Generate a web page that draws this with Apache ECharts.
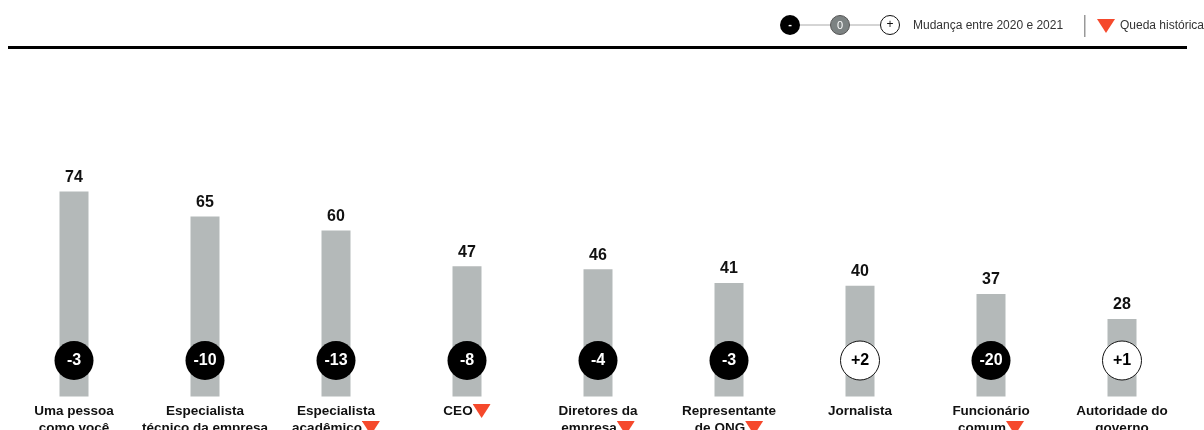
<!DOCTYPE html>
<html>
<head>
<meta charset="utf-8">
<script src="https://cdn.jsdelivr.net/npm/echarts@6/dist/echarts.min.js"></script>
<style>
html,body{margin:0;padding:0;background:#fff;}
#chart{width:1204px;height:430px;}
</style>
</head>
<body>
<div id="chart"></div>
<script>
const categories = ['Uma pessoa\ncomo você','Especialista\ntécnico da empresa','Especialista\nacadêmico','CEO','Diretores da\nempresa','Representante\nde ONG','Jornalista','Funcionário\ncomum','Autoridade do\ngoverno'];
const trust2021 = [74, 65, 60, 47, 46, 41, 40, 37, 28];
const change = [-3, -10, -13, -8, -4, -3, 2, -20, 1];
const historicDrop = [false, false, true, true, true, true, false, true, false];

const RED = '#f5492c';
const FONT = '"Liberation Sans", Arial, sans-serif';
const TRI_IMG = 'data:image/svg+xml;charset=utf-8,' + encodeURIComponent(
  '<svg xmlns="http://www.w3.org/2000/svg" width="17" height="12" viewBox="0 0 17 12"><polygon points="0,0 17,0 8.5,12" fill="' + RED + '"/></svg>');

const chart = echarts.init(document.getElementById('chart'));
chart.setOption({
  animation: false,
  grid: {left: 8.5, right: 16.5, top: 175, bottom: 33.5, containLabel: false, outerBoundsMode: 'none'},
  xAxis: {
    type: 'category',
    data: categories,
    axisLine: {show: false},
    axisTick: {show: false},
    axisLabel: {
      interval: 0,
      margin: 6,
      color: '#111',
      fontFamily: FONT,
      fontWeight: 'bold',
      fontSize: 13.5,
      lineHeight: 17,
      formatter: function (v, i) {
        return historicDrop[i] ? v + '{tri| }' : v;
      },
      rich: {
        tri: {width: 17, height: 12, padding: [2, 0, 0, 1], backgroundColor: {image: TRI_IMG}, fontSize: 1}
      }
    }
  },
  yAxis: {type: 'value', min: 0, max: 80, show: false, splitLine: {show: false}},
  series: [
    {
      type: 'bar',
      data: trust2021,
      barWidth: 29,
      itemStyle: {color: '#b4b9b9'},
      label: {
        show: true, position: 'top', distance: 6,
        color: '#111', fontFamily: FONT, fontWeight: 'bold', fontSize: 16
      }
    },
    {
      type: 'scatter',
      data: change.map(function (c) {
        return {
          value: 0,
          itemStyle: c > 0 ? {color: '#fff', borderColor: '#111', borderWidth: 1, opacity: 1} : {color: '#000', opacity: 1},
          label: {color: c > 0 ? '#000' : '#fff'}
        };
      }),
      symbol: 'circle',
      symbolSize: 39,
      symbolOffset: [0, -36],
      z: 5,
      label: {
        show: true, position: 'inside',
        fontFamily: FONT, fontWeight: 'bold', fontSize: 16,
        formatter: function (p) { const c = change[p.dataIndex]; return c > 0 ? '+' + c : String(c); }
      }
    }
  ],
  graphic: [
    {type: 'rect', shape: {x: 8, y: 46, width: 1179, height: 3}, style: {fill: '#000'}},
    {type: 'line', shape: {x1: 790, y1: 25, x2: 890, y2: 25}, style: {stroke: '#aaa', lineWidth: 1}},
    {type: 'circle', shape: {cx: 790, cy: 25, r: 10}, style: {fill: '#000'}},
    {type: 'text', x: 790, y: 25, style: {text: '-', fill: '#fff', font: 'bold 11px ' + FONT, align: 'center', verticalAlign: 'middle'}},
    {type: 'circle', shape: {cx: 840, cy: 25, r: 9.5}, style: {fill: '#7c8282', stroke: '#555', lineWidth: 1}},
    {type: 'text', x: 840, y: 25.5, style: {text: '0', fill: '#fff', font: '11px ' + FONT, align: 'center', verticalAlign: 'middle'}},
    {type: 'circle', shape: {cx: 890, cy: 25, r: 9.5}, style: {fill: '#fff', stroke: '#111', lineWidth: 1}},
    {type: 'text', x: 890, y: 25, style: {text: '+', fill: '#111', font: '12px ' + FONT, align: 'center', verticalAlign: 'middle'}},
    {type: 'text', x: 913, y: 26, style: {text: 'Mudança entre 2020 e 2021', fill: '#333', font: '12px ' + FONT, verticalAlign: 'middle'}},
    {type: 'rect', shape: {x: 1084, y: 15, width: 1.5, height: 22}, style: {fill: '#999'}},
    {type: 'polygon', shape: {points: [[1097, 19], [1115, 19], [1106, 33]]}, style: {fill: RED}},
    {type: 'text', x: 1120, y: 26, style: {text: 'Queda histórica', fill: '#333', font: '12px ' + FONT, verticalAlign: 'middle'}}
  ]
});
</script>
</body>
</html>
